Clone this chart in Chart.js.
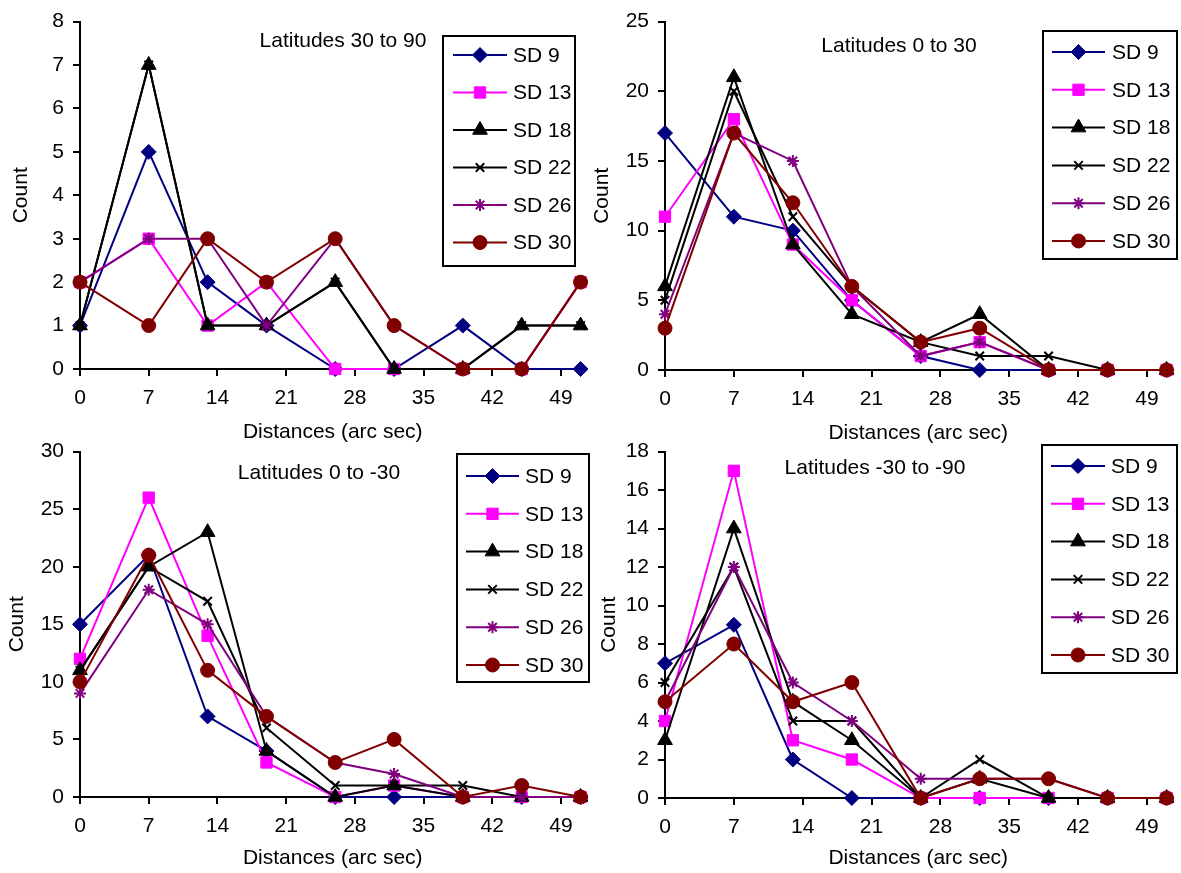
<!DOCTYPE html>
<html>
<head>
<meta charset="utf-8">
<script src="https://cdn.jsdelivr.net/npm/chart.js@4.4.1/dist/chart.umd.min.js"></script>
<style>
  html, body { margin: 0; background: #fff; }
  #wrap { position: relative; width: 1181px; height: 873px; overflow: hidden; }
  canvas { position: absolute; }
</style>
</head>
<body>
<div id="wrap">
  <canvas id="c1" width="595" height="450" style="left:0;top:0"></canvas>
  <canvas id="c2" width="591" height="450" style="left:590px;top:0"></canvas>
  <canvas id="c3" width="595" height="443" style="left:0;top:430px"></canvas>
  <canvas id="c4" width="591" height="443" style="left:590px;top:430px"></canvas>
</div>
<script>
// distances (arc sec) where counts were taken
const distances = [0, 7, 13, 19, 26, 32, 39, 45, 51];
const seriesNames = ["SD 9", "SD 13", "SD 18", "SD 22", "SD 26", "SD 30"];
const xTicks = [0, 7, 14, 21, 28, 35, 42, 49];

// one row per series, same order as seriesNames
const lat30to90 = [
    [1, 5, 2, 1, 0, 0, 1, 0, 0],
    [2, 3, 1, 2, 0, 0, 0, 0, 2],
    [1, 7, 1, 1, 2, 0, 0, 1, 1],
    [1, 7, 1, 1, 2, 0, 0, 1, 1],
    [2, 3, 3, 1, 3, 1, 0, 0, 2],
    [2, 1, 3, 2, 3, 1, 0, 0, 2]
];
const lat0to30 = [
    [17, 11, 10, 5, 1, 0, 0, 0, 0],
    [11, 18, 9, 5, 1, 2, 0, 0, 0],
    [6, 21, 9, 4, 2, 4, 0, 0, 0],
    [5, 20, 11, 6, 2, 1, 1, 0, 0],
    [4, 17, 15, 6, 1, 2, 0, 0, 0],
    [3, 17, 12, 6, 2, 3, 0, 0, 0]
];
const lat0toM30 = [
    [15, 21, 7, 4, 0, 0, 0, 0, 0],
    [12, 26, 14, 3, 0, 1, 0, 0, 0],
    [11, 20, 23, 4, 0, 1, 0, 0, 0],
    [11, 20, 17, 6, 1, 1, 1, 0, 0],
    [9, 18, 15, 7, 3, 2, 0, 0, 0],
    [10, 21, 11, 7, 3, 5, 0, 1, 0]
];
const latM30toM90 = [
    [7, 9, 2, 0, 0, 0, 0, 0, 0],
    [4, 17, 3, 2, 0, 0, 0, 0, 0],
    [3, 14, 5, 3, 0, 1, 0, 0, 0],
    [6, 12, 4, 4, 0, 2, 0, 0, 0],
    [5, 12, 6, 4, 1, 1, 1, 0, 0],
    [5, 8, 5, 6, 0, 1, 1, 0, 0]
];

const FONT = '"Liberation Sans", Arial, sans-serif';
Chart.defaults.font.family = FONT;
Chart.defaults.font.size = 21;
Chart.defaults.color = "#000";

const seriesStyle = [
    { color: "#000080", point: "rectRot", r: 7.5, bw: 1 },
    { color: "#ff00ff", point: "rect", r: 8, bw: 1 },
    { color: "#000000", point: "triangle", r: 8.5, bw: 1 },
    { color: "#000000", point: "crossRot", r: 6, bw: 2 },
    { color: "#800080", point: "star", r: 6, bw: 2 },
    { color: "#800000", point: "circle", r: 7, bw: 1 }
];

// draws the title text and the boxed legend inside the plot
const panelDecor = {
    id: "panelDecor",
    afterDraw(chart, args, opts) {
        const ctx = chart.ctx;
        ctx.save();
        ctx.fillStyle = "#000";
        ctx.font = "21px " + FONT;
        ctx.textAlign = "center";
        ctx.textBaseline = "middle";
        ctx.fillText(opts.title, opts.titleX, opts.titleY);

        const lg = opts.legend;
        ctx.fillStyle = "#fff";
        ctx.fillRect(lg.x, lg.y, lg.w, lg.h);
        ctx.strokeStyle = "#000";
        ctx.lineWidth = 2;
        ctx.strokeRect(lg.x, lg.y, lg.w, lg.h);

        chart.data.datasets.forEach((ds, i) => {
            const yy = lg.row0 + i * lg.gap;
            ctx.strokeStyle = ds.borderColor;
            ctx.lineWidth = ds.borderWidth;
            ctx.beginPath();
            ctx.moveTo(lg.x0, yy);
            ctx.lineTo(lg.x1, yy);
            ctx.stroke();
            ctx.fillStyle = ds.pointBackgroundColor;
            ctx.strokeStyle = ds.pointBorderColor;
            ctx.lineWidth = ds.pointBorderWidth;
            Chart.helpers.drawPoint(ctx, {
                pointStyle: ds.pointStyle,
                radius: ds.pointRadius,
                rotation: 0,
                borderWidth: ds.pointBorderWidth
            }, (lg.x0 + lg.x1) / 2, yy);
            ctx.fillStyle = "#000";
            ctx.textAlign = "left";
            ctx.fillText(ds.label, lg.tx, yy + 1);
        });
        ctx.restore();
    }
};

function makePanel(id, title, rows, yMax, yStep, lay) {
    const datasets = rows.map((row, i) => {
        const s = seriesStyle[i];
        return {
            label: seriesNames[i],
            data: distances.map((d, j) => ({ x: d, y: row[j] })),
            showLine: true,
            borderColor: s.color,
            borderWidth: 2,
            pointStyle: s.point,
            pointRadius: s.r,
            pointBackgroundColor: s.color,
            pointBorderColor: s.color,
            pointBorderWidth: s.bw,
            clip: false,
            order: rows.length - i
        };
    });

    return new Chart(document.getElementById(id), {
        type: "scatter",
        data: { datasets: datasets },
        options: {
            responsive: false,
            animation: false,
            events: [],
            layout: { padding: lay.padding },
            scales: {
                x: {
                    type: "linear",
                    min: 0,
                    max: 51.5,
                    afterBuildTicks: (s) => { s.ticks = xTicks.map((v) => ({ value: v })); },
                    afterFit: (s) => { s.height = lay.xh; },
                    ticks: { padding: 10, maxRotation: 0 },
                    grid: { drawOnChartArea: false, drawTicks: true, tickLength: 7, color: "#000", lineWidth: 2 },
                    border: { color: "#000", width: 2 },
                    title: { display: true, text: "Distances (arc sec)", padding: { top: 0, bottom: lay.xtb } }
                },
                y: {
                    min: 0,
                    max: yMax,
                    afterFit: (s) => { s.width = lay.yw; },
                    ticks: { stepSize: yStep, padding: 9 },
                    grid: { drawOnChartArea: false, drawTicks: true, tickLength: 7, color: "#000", lineWidth: 2 },
                    border: { color: "#000", width: 2 },
                    title: { display: true, text: "Count", padding: { top: lay.ytp, bottom: 0 } }
                }
            },
            plugins: {
                legend: { display: false },
                tooltip: { enabled: false },
                panelDecor: {
                    title: title,
                    titleX: lay.tx,
                    titleY: lay.ty,
                    legend: lay.legend
                }
            }
        },
        plugins: [panelDecor]
    });
}

makePanel("c1", "Latitudes 30 to 90", lat30to90, 8, 1, {
    padding: { left: 0, right: 9, top: 21, bottom: 5 },
    xh: 76, xtb: 0, yw: 80, ytp: 9, tx: 343, ty: 41,
    legend: { x: 443, y: 36, w: 132, h: 230, row0: 55, gap: 37.5, x0: 453, x1: 507, tx: 513 }
});
makePanel("c2", "Latitudes 0 to 30", lat0to30, 25, 5, {
    padding: { left: 0, right: 3, top: 20, bottom: 4 },
    xh: 76, xtb: 0, yw: 75, ytp: 0, tx: 309, ty: 46,
    legend: { x: 453, y: 31, w: 134, h: 228, row0: 52, gap: 37.8, x0: 462, x1: 515, tx: 522 }
});
makePanel("c3", "Latitudes 0 to -30", lat0toM30, 30, 5, {
    padding: { left: 0, right: 4, top: 17, bottom: 0 },
    xh: 76, xtb: 2, yw: 80, ytp: 5, tx: 319, ty: 43,
    legend: { x: 457, y: 24, w: 132, h: 228, row0: 46, gap: 37.8, x0: 466, x1: 519, tx: 525 }
});
makePanel("c4", "Latitudes -30 to -90", latM30toM90, 18, 2, {
    padding: { left: 0, right: 2, top: 20, bottom: 0 },
    xh: 75, xtb: 2, yw: 75, ytp: 7, tx: 285, ty: 38,
    legend: { x: 452, y: 15, w: 135, h: 228, row0: 36, gap: 37.8, x0: 461, x1: 515, tx: 521 }
});
</script>
</body>
</html>
